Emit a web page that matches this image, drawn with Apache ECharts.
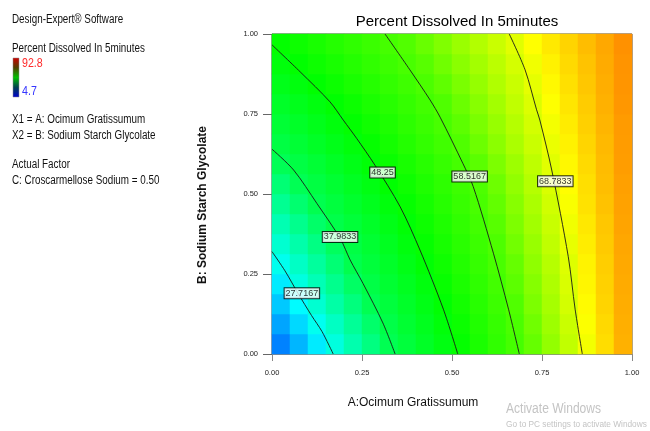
<!DOCTYPE html>
<html>
<head>
<meta charset="utf-8">
<script src="https://cdn.jsdelivr.net/npm/echarts@6/dist/echarts.min.js"></script>
<style>
  html, body { margin: 0; padding: 0; background: #fff; }
  #main { width: 650px; height: 431px; }
</style>
</head>
<body>
<div id="main"></div>
<script>
// cell centres of the surface (A along x, B along y)
var xCells = [0.025, 0.075, 0.125, 0.175, 0.225, 0.275, 0.325, 0.375, 0.425, 0.475,
              0.525, 0.575, 0.625, 0.675, 0.725, 0.775, 0.825, 0.875, 0.925, 0.975];
var yCells = [0.031, 0.094, 0.156, 0.219, 0.281, 0.344, 0.406, 0.469,
              0.531, 0.594, 0.656, 0.719, 0.781, 0.844, 0.906, 0.969];

// percent dissolved, one row per yCells entry (bottom row first)
var surface = [
  [16.5, 20.8, 25.1, 28.8, 31.8, 34.7, 37.6, 40.5, 43.5, 46.4, 49.3, 52.3, 55.3, 58.2, 61.1, 64.0, 66.9, 70.0, 73.6, 77.3],
  [19.4, 23.6, 27.7, 30.5, 33.3, 36.1, 38.9, 41.8, 44.6, 47.5, 50.3, 53.2, 56.1, 59.0, 61.8, 64.6, 67.4, 70.6, 74.0, 77.5],
  [22.3, 26.5, 29.6, 32.3, 34.9, 37.6, 40.3, 43.1, 45.8, 48.5, 51.3, 54.1, 57.0, 59.7, 62.5, 65.2, 68.0, 71.1, 74.4, 77.7],
  [25.1, 28.7, 31.3, 33.9, 36.5, 39.1, 41.8, 44.4, 47.0, 49.7, 52.4, 55.1, 57.8, 60.5, 63.1, 65.7, 68.4, 71.5, 74.6, 77.8],
  [27.8, 30.4, 32.9, 35.5, 38.1, 40.6, 43.1, 45.7, 48.2, 50.8, 53.4, 56.0, 58.6, 61.1, 63.7, 66.2, 68.7, 71.8, 74.9, 78.0],
  [29.7, 32.1, 34.5, 36.9, 39.4, 41.9, 44.4, 46.9, 49.4, 51.9, 54.4, 56.9, 59.4, 61.9, 64.3, 66.8, 69.3, 72.3, 75.2, 78.2],
  [31.6, 33.9, 36.2, 38.6, 40.9, 43.3, 45.7, 48.1, 50.5, 52.9, 55.4, 57.8, 60.2, 62.6, 64.9, 67.3, 69.9, 72.7, 75.5, 78.4],
  [33.6, 35.8, 37.9, 40.2, 42.5, 44.8, 47.1, 49.4, 51.7, 54.0, 56.3, 58.6, 60.9, 63.2, 65.5, 67.8, 70.4, 73.2, 75.9, 78.6],
  [35.5, 37.5, 39.7, 41.9, 44.1, 46.3, 48.6, 50.7, 52.9, 55.0, 57.2, 59.4, 61.6, 63.9, 66.1, 68.4, 70.9, 73.5, 76.2, 78.8],
  [37.4, 39.4, 41.5, 43.6, 45.7, 47.9, 50.0, 52.0, 54.1, 56.2, 58.3, 60.4, 62.5, 64.6, 66.7, 68.9, 71.4, 73.9, 76.4, 79.0],
  [39.5, 41.5, 43.5, 45.4, 47.4, 49.4, 51.5, 53.5, 55.6, 57.6, 59.6, 61.5, 63.5, 65.5, 67.4, 69.5, 71.9, 74.3, 76.7, 79.1],
  [41.4, 43.3, 45.2, 47.1, 49.0, 50.9, 52.8, 54.8, 56.7, 58.6, 60.5, 62.4, 64.2, 66.1, 68.0, 70.1, 72.4, 74.7, 77.0, 79.2],
  [43.3, 45.0, 46.8, 48.6, 50.4, 52.3, 54.1, 55.9, 57.8, 59.6, 61.4, 63.2, 65.0, 66.8, 68.6, 70.7, 72.9, 75.1, 77.3, 79.5],
  [45.3, 47.0, 48.7, 50.4, 52.2, 53.9, 55.6, 57.3, 59.1, 60.7, 62.4, 64.1, 65.8, 67.4, 69.2, 71.3, 73.4, 75.5, 77.6, 79.7],
  [47.2, 48.9, 50.5, 52.1, 53.7, 55.4, 57.0, 58.6, 60.2, 61.8, 63.4, 65.0, 66.5, 68.1, 69.9, 71.9, 73.9, 75.8, 77.8, 79.8],
  [49.1, 50.6, 52.1, 53.7, 55.2, 56.7, 58.3, 59.8, 61.3, 62.8, 64.4, 65.9, 67.4, 68.9, 70.8, 72.6, 74.4, 76.3, 78.1, 80.0]
];

var rangeMin = 4.7;
var rangeMax = 92.8;
// colour ramp spread evenly from rangeMin to rangeMax
var ramp = ['#0000ff', '#0078ff', '#00ffff', '#00ff50', '#00ff00', '#50ff00', '#ffff00', '#ff7c00', '#ff0000'];

// contour levels and traced points [A, B]
var levels = [27.7167, 37.9833, 48.25, 58.5167, 68.7833];
var contour1 = [[0, 0.32], [0.036, 0.26], [0.072, 0.19], [0.11, 0.12], [0.139, 0.07], [0.17, 0]];
var contour2 = [[0, 0.64], [0.06, 0.575], [0.125, 0.47], [0.19, 0.36], [0.217, 0.294], [0.253, 0.22], [0.308, 0.097], [0.342, 0]];
var contour3 = [[0, 0.966], [0.078, 0.882], [0.161, 0.788], [0.198, 0.731], [0.235, 0.674], [0.286, 0.59], [0.356, 0.46], [0.411, 0.325], [0.476, 0.14], [0.516, 0]];
var contour4 = [[0.314, 1], [0.383, 0.888], [0.439, 0.794], [0.467, 0.74], [0.53, 0.596], [0.559, 0.523], [0.615, 0.315], [0.657, 0.14], [0.687, 0]];
var contour5 = [[0.659, 1], [0.703, 0.888], [0.735, 0.763], [0.744, 0.731], [0.777, 0.575], [0.823, 0.304], [0.842, 0.14], [0.862, 0]];
var labelAt = [[0.083, 0.19], [0.189, 0.366], [0.307, 0.567], [0.549, 0.555], [0.787, 0.54]];

var SANS = '"Liberation Sans", Arial, sans-serif';

var cells = [];
surface.forEach(function (row, j) {
  row.forEach(function (v, i) {
    cells.push([i, j, v]);
  });
});

var contours = [contour1, contour2, contour3, contour4, contour5];

var chart = echarts.init(document.getElementById('main'));

var series = [{
  type: 'heatmap',
  xAxisIndex: 0,
  yAxisIndex: 0,
  data: cells,
  silent: true,
  itemStyle: { borderWidth: 0 },
  emphasis: { disabled: true }
}];

contours.forEach(function (pts) {
  series.push({
    type: 'line',
    xAxisIndex: 1,
    yAxisIndex: 1,
    data: pts,
    smooth: 0.3,
    symbol: 'none',
    silent: true,
    z: 5,
    lineStyle: { color: '#1a1a1a', width: 0.9 }
  });
});

series.push({
  type: 'scatter',
  xAxisIndex: 1,
  yAxisIndex: 1,
  data: labelAt,
  symbolSize: 0,
  silent: true,
  z: 10,
  label: {
    show: true,
    position: 'inside',
    formatter: function (p) { return String(levels[p.dataIndex]); },
    fontFamily: SANS,
    fontSize: 9,
    color: '#000',
    backgroundColor: '#fff',
    borderColor: '#000',
    borderWidth: 1,
    padding: [1, 1, 0, 1]
  }
});

// left-hand notes, drawn slightly condensed like the original
function note(txt, x, y, color, size) {
  return {
    type: 'text', x: x, y: y, scaleX: 0.82, silent: true,
    style: { text: txt, font: (size || 12) + 'px ' + SANS, fill: color || '#111', verticalAlign: 'top' }
  };
}

var option = {
  animation: false,
  backgroundColor: '#fff',
  title: {
    text: 'Percent Dissolved In 5minutes',
    left: 452,
    textAlign: 'center',
    top: 9,
    textStyle: { fontFamily: SANS, fontSize: 15, fontWeight: 'normal', color: '#000' }
  },
  grid: {
    left: 272, top: 34, width: 360, height: 320,
    show: true, borderColor: '#444', borderWidth: 1, backgroundColor: 'transparent'
  },
  visualMap: {
    show: false,
    type: 'continuous',
    min: rangeMin,
    max: rangeMax,
    seriesIndex: 0,
    inRange: { color: ramp }
  },
  xAxis: [{
    type: 'category',
    data: xCells,
    show: false
  }, {
    type: 'value',
    min: 0, max: 1, interval: 0.25,
    position: 'bottom',
    axisLine: { show: true, lineStyle: { color: '#888' } },
    axisTick: { show: true, length: 7, lineStyle: { color: '#888' } },
    splitLine: { show: false },
    axisLabel: {
      margin: 15, fontSize: 7.5, fontFamily: SANS, color: '#222',
      formatter: function (v) { return v.toFixed(2); }
    },
    name: 'A:Ocimum Gratissumum',
    nameLocation: 'middle',
    nameGap: 43,
    nameTextStyle: { fontFamily: SANS, fontSize: 12, color: '#111', padding: [0, 78, 0, 0] }
  }],
  yAxis: [{
    type: 'category',
    data: yCells,
    show: false
  }, {
    type: 'value',
    min: 0, max: 1, interval: 0.25,
    position: 'left',
    axisLine: { show: true, lineStyle: { color: '#888' } },
    axisTick: { show: true, length: 9, lineStyle: { color: '#666' } },
    splitLine: { show: false },
    axisLabel: {
      margin: 14, fontSize: 7.5, fontFamily: SANS, color: '#222',
      formatter: function (v) { return v.toFixed(2); }
    },
    name: 'B: Sodium Starch Glycolate',
    nameLocation: 'middle',
    nameGap: 63,
    nameTextStyle: { fontFamily: SANS, fontSize: 12, fontWeight: 'bold', color: '#111', padding: [0, 22, 0, 0] }
  }],
  graphic: [
    note('Design-Expert® Software', 12, 14),
    note('Percent Dissolved In 5minutes', 12, 43),
    {
      type: 'rect', shape: { x: 13, y: 58, width: 6, height: 39 }, silent: true,
      style: {
        stroke: '#888', lineWidth: 0.5,
        fill: new echarts.graphic.LinearGradient(0, 0, 0, 1, [
          { offset: 0, color: '#d00000' },
          { offset: 0.25, color: '#504000' },
          { offset: 0.5, color: '#00c000' },
          { offset: 0.75, color: '#004050' },
          { offset: 1, color: '#0000d0' }
        ])
      }
    },
    note(String(rangeMax), 22, 57, '#ff2a2a', 13),
    note(String(rangeMin), 22, 85, '#3535ff', 13),
    note('X1 = A: Ocimum Gratissumum', 12, 114),
    note('X2 = B: Sodium Starch Glycolate', 12, 130),
    note('Actual Factor', 12, 159),
    note('C: Croscarmellose Sodium = 0.50', 12, 175),
    { type: 'text', x: 506, y: 402, scaleX: 0.86, silent: true,
      style: { text: 'Activate Windows', font: '14px ' + SANS, fill: '#c4c4c4', verticalAlign: 'top' } },
    { type: 'text', x: 506, y: 420, scaleX: 0.92, silent: true,
      style: { text: 'Go to PC settings to activate Windows', font: '9px ' + SANS, fill: '#c4c4c4', verticalAlign: 'top' } }
  ],
  series: series
};

chart.setOption(option);
</script>
</body>
</html>
